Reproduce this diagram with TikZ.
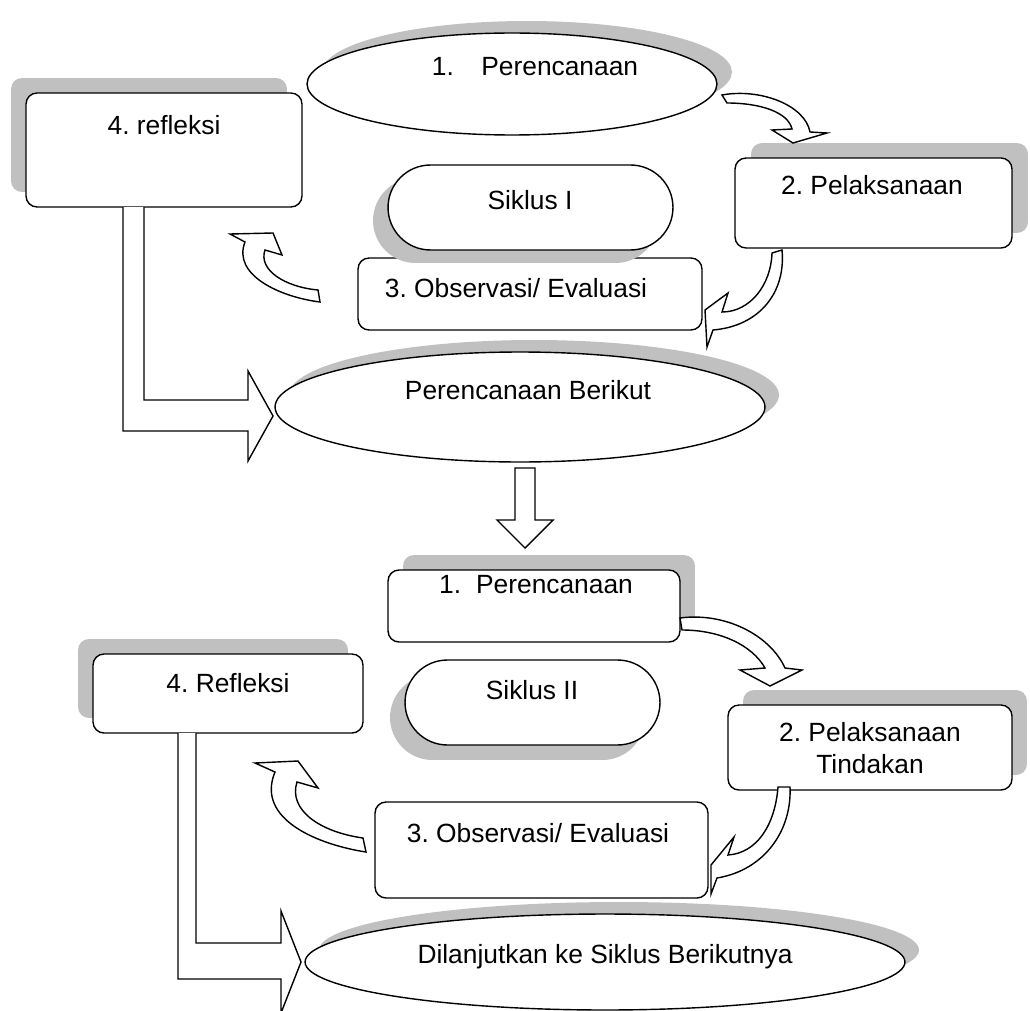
\documentclass[tikz,border=0pt]{standalone}
\usepackage{fontspec}
\setmainfont{Liberation Sans}
\usetikzlibrary{shapes.geometric,shadows}

\definecolor{bayangan}{RGB}{192,192,192}
\frenchspacing

\begin{document}
\begin{tikzpicture}[
    x=0.02cm, y=-0.02cm,
    % Gaya node
    kotak/.style={
        rectangle, draw, fill=white,
        rounded corners=0.22cm, line width=0.8pt,
        inner sep=0pt
    },
    kapsul/.style={
        kotak, rounded corners=0.85cm
    },
    elips/.style={
        ellipse, draw, fill=white,
        line width=0.8pt, inner sep=0pt
    },
    teks/.style={font=\fontsize{15}{18}\selectfont, inner sep=0pt, align=center},
    blok/.style={draw, fill=white, line width=0.8pt},
    % bayangan: geser x, geser y
    bayang/.style 2 args={
        drop shadow={shadow xshift=#1, shadow yshift=#2,
                     fill=bayangan, opacity=1}
    }
]
\useasboundingbox (0,0) rectangle (1030,1010);

% Siklus I
\node[elips, bayang={0.3cm}{0.24cm}, minimum width=8.2cm, minimum height=2.04cm] (ren1) at (512,84) {};
\node[teks] (ren1t) at (535,67) {1.\hspace{0.55cm}Perencanaan};

\node[kotak, bayang={-0.3cm}{0.3cm}, minimum width=5.52cm, minimum height=2.28cm] (ref1) at (164,150) {};
\node[teks] (ref1t) at (164,125) {4. refleksi};

\node[kotak, bayang={0.32cm}{0.3cm}, minimum width=5.54cm, minimum height=1.8cm] (pel1) at (873.5,203) {};
\node[teks] (pel1t) at (872,185) {2. Pelaksanaan};

\node[kotak, minimum width=6.88cm, minimum height=1.44cm] (obs1) at (530,294) {};
\node[teks] (obs1t) at (516,288) {3. Observasi/ Evaluasi};

\node[kapsul, bayang={-0.3cm}{-0.26cm}, minimum width=5.7cm, minimum height=1.7cm] (sik1) at (530.5,207.5) {};
\node[teks] (sik1t) at (530,200) {Siklus I};

\node[elips, bayang={0.28cm}{0.24cm}, minimum width=9.8cm, minimum height=2.2cm] (ber) at (520,407) {};
\node[teks] (bert) at (528,390) {Perencanaan Berikut};

% Panah siklus I
\draw[blok] (722,95) .. controls (760,88) and (805,105) .. (810,132) -- (827,133) -- (793,143) -- (772,130) -- (792,129) .. controls (788,112) and (760,103) .. (727,103) -- cycle;
\draw[blok] (782,250) .. controls (786,292) and (760,326) .. (713,330) -- (707,347) -- (705,310) -- (728,293) -- (722,312) .. controls (750,312) and (771,285) .. (772,253) -- cycle;
\draw[blok] (320,302) .. controls (280,297) and (232,275) .. (245,242) -- (230,234) -- (273,233) -- (282,255) -- (265,250) .. controls (258,270) and (285,287) .. (318,290) -- cycle;
\draw[blok] (123,207) -- (123,431) -- (248,431) -- (248,461) -- (273,416) -- (248,371) -- (248,400) -- (144,400) -- (144,207);

% Ke siklus II
\draw[blok] (515,468) -- (535,468) -- (535,520) -- (553,520) -- (525,548) -- (497,520) -- (515,520) -- cycle;

% Siklus II
\node[kotak, bayang={0.3cm}{0.3cm}, minimum width=5.84cm, minimum height=1.44cm] (ren2) at (534,606) {};
\node[teks] (ren2t) at (536,585) {1.\hspace{0.3cm}Perencanaan};

\node[kotak, bayang={-0.3cm}{0.3cm}, minimum width=5.4cm, minimum height=1.58cm] (ref2) at (228,693.5) {};
\node[teks] (ref2t) at (228,683) {4. Refleksi};

\node[kapsul, bayang={-0.3cm}{-0.3cm}, minimum width=5.1cm, minimum height=1.7cm] (sik2) at (532.5,702.5) {};
\node[teks] (sik2t) at (532,690) {Siklus II};

\node[kotak, bayang={0.3cm}{0.3cm}, minimum width=5.68cm, minimum height=1.7cm] (pel2) at (870,747.5) {};
\node[teks] (pel2t) at (870,748) {2. Pelaksanaan\\Tindakan};

\node[kotak, minimum width=6.66cm, minimum height=1.92cm] (obs2) at (541.5,850) {};
\node[teks] (obs2t) at (538,833) {3. Observasi/ Evaluasi};

\node[elips, bayang={0.28cm}{0.24cm}, minimum width=12cm, minimum height=1.92cm] (dil) at (605,962) {};
\node[teks] (dilt) at (605,957) {Dilanjutkan ke Siklus Berikutnya};

% Panah siklus II
\draw[blok] (680,618) .. controls (725,612) and (770,635) .. (785,668) -- (802,670) -- (770,686) -- (740,670) -- (765,668) .. controls (752,645) and (720,630) .. (682,630) -- cycle;
\draw[blok] (790,787) .. controls (792,830) and (765,870) .. (717,878) -- (711,894) -- (711,865) -- (734,837) -- (728,855) .. controls (757,853) and (775,825) .. (778,787) -- cycle;
\draw[blok] (366,852) .. controls (320,845) and (255,820) .. (275,772) -- (255,763) -- (298,761) -- (318,788) -- (297,782) .. controls (288,810) and (320,832) .. (363,838) -- cycle;
\draw[blok] (178,733) -- (178,979) -- (281,979) -- (281,1013) -- (301,962) -- (281,911) -- (281,943) -- (196,943) -- (196,733);

\end{tikzpicture}
\end{document}
